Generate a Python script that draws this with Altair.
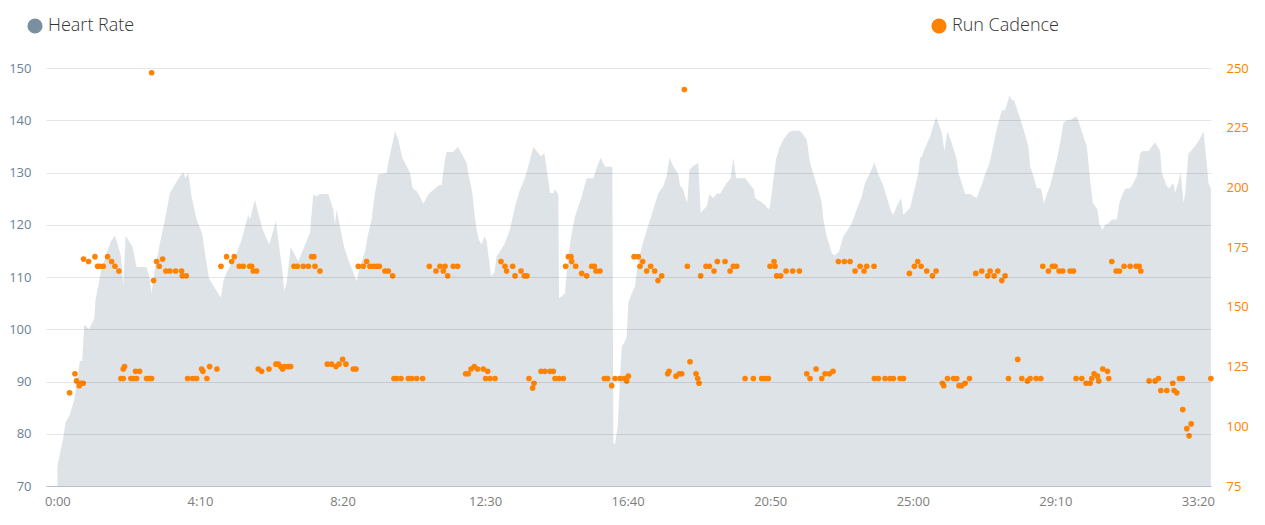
import altair as alt
import pandas as pd

# ---------------- Heart rate (area) ----------------
hr_t = (
    [0, 10.2, 14.3, 21.9, 29.5, 39.5, 43.6, 47.1, 55.3, 64.6, 66.9, 71.6, 76.3, 86.2, 93.8,
     100.9, 106.7, 111.4, 115.5, 119.6, 131.3, 138.9, 156.4, 162.2, 165.2, 169.8, 179.8, 188.6,
     197.3, 206.1, 214.9, 220.7, 224.8, 229.5, 235.3, 244.1, 254.0, 258.7, 265.7, 270.4, 279.2,
     286.8, 290.9, 296.7, 305.5, 314.3, 323.0]
    + [334.7, 337.6, 346.4, 352.3, 359.9, 371.6, 383.2, 387.3, 394.9, 397.9, 402.0, 409.0, 422.4,
       442.9, 448.7, 454.6, 460.4, 475.0, 483.8, 486.7, 489.7, 495.5, 502.5, 510.1, 518.9, 524.7,
       530.6, 539.4, 545.2, 551.0, 556.9, 562.7, 577.4, 580.3, 592.0, 597.8, 604.8, 612.4, 618.3,
       623.0, 630.0, 635.8, 641.7, 650.4, 659.2, 670.9]
    + [673.8, 679.7, 682.6, 694.3, 701.9, 708.9, 717.7, 720.6, 725.3, 727.6, 731.1, 735.2, 739.3,
       744.0, 748.7, 752.8, 756.9, 760.4, 766.2, 770.3, 776.1, 784.9, 793.7, 802.5, 811.2, 820.0,
       825.8, 834.6, 840.5, 848.1, 853.9, 859.8, 863.9, 869.7, 872.6, 878.5, 879.6, 883.1, 890.2,
       893.1, 896.0, 901.9, 907.7, 919.4, 928.2, 939.8, 945.7, 952.7, 960.3, 973.2, 974.9, 977.9,
       982.5, 986.6, 989.6, 995.4, 998.3, 1001.2, 1007.1]
    + [1012.9, 1018.8, 1027.5, 1036.3, 1045.1, 1053.9, 1062.6, 1068.5, 1073.2, 1080.2, 1088.9,
       1091.9, 1096.5, 1100.6, 1104.7, 1108.2, 1115.2, 1124.0, 1128.1, 1132.8, 1138.6, 1143.3,
       1150.3, 1157.3, 1162.0, 1167.9, 1173.7, 1180.7, 1185.4, 1190.1, 1205.9, 1214.6, 1221.7,
       1223.4, 1232.2, 1241.0, 1246.8, 1249.7, 1255.6, 1260.2, 1266.1, 1273.1, 1281.9, 1287.7,
       1302.3, 1308.2, 1314.0, 1319.9, 1326.9, 1334.5, 1340.4, 1343.3, 1349.1]
    + [1357.9, 1362.6, 1370.8, 1378.3, 1384.2, 1393.0, 1401.7, 1410.5, 1416.4, 1425.1, 1432.7,
       1439.7, 1448.5, 1457.3, 1461.9, 1466.0, 1471.9, 1479.5, 1483.6, 1489.4, 1495.3, 1502.9,
       1509.9, 1512.8, 1515.8, 1521.6, 1530.4, 1540.9, 1550.8, 1555.5, 1560.8, 1568.4, 1577.1,
       1580.1, 1585.9, 1591.8, 1600.5, 1612.2, 1621.0, 1626.8, 1633.9, 1638.5, 1644.4, 1650.2,
       1656.1, 1661.9, 1669.5, 1673.6, 1677.7, 1682.4, 1688.2]
    + [1695.2, 1702.8, 1705.8, 1711.6, 1717.5, 1724.5, 1730.3, 1735.0, 1740.8, 1746.7, 1752.5,
       1758.4, 1764.2, 1770.1, 1775.9, 1786.4, 1788.8, 1796.4, 1805.2, 1811.0, 1815.7, 1823.9,
       1827.4, 1833.2, 1837.3, 1843.2, 1849.0, 1857.8, 1862.4, 1866.6, 1872.4, 1881.2, 1887.0,
       1892.9, 1898.7, 1903.4, 1913.3, 1919.2, 1925.0, 1930.9, 1933.8, 1936.7, 1945.5, 1950.2,
       1954.3, 1957.2, 1960.1, 1966.0, 1970.0, 1974.7, 1977.6, 1983.5, 1986.4, 1992.3, 2001.0,
       2009.8, 2012.7, 2015.6, 2018.6, 2022.7]
)
hr_bpm = (
    [73.8, 79.2, 82.1, 83.7, 86.5, 93.9, 93.9, 100.9, 100.0, 102.0, 105.7, 108.2, 111.1, 114.6,
     116.8, 117.9, 115.9, 114.0, 108.2, 117.9, 115.9, 111.9, 111.9, 109.5, 106.9, 110.8, 116.5,
     121.0, 126.1, 127.7, 129.3, 130.0, 128.9, 129.9, 125.4, 121.0, 118.3, 114.6, 109.8, 108.9,
     107.3, 106.0, 109.2, 110.8, 112.7, 114.6, 117.1]
    + [121.9, 121.0, 124.8, 122.2, 119.1, 116.2, 120.7, 117.1, 110.8, 107.3, 108.9, 115.7, 113.0,
       118.4, 125.8, 125.4, 125.9, 125.9, 122.9, 120.0, 122.9, 119.7, 115.9, 113.3, 110.8, 109.2,
       112.0, 114.9, 118.4, 121.0, 126.1, 129.6, 129.9, 131.8, 137.9, 136.3, 132.8, 131.2, 129.9,
       127.0, 126.4, 125.4, 124.0, 125.8, 126.7, 127.7]
    + [127.5, 132.5, 133.9, 133.9, 134.9, 133.7, 131.8, 129.6, 127.4, 126.1, 122.2, 119.1, 117.1,
       116.2, 117.8, 116.8, 113.3, 110.1, 110.8, 114.0, 114.9, 116.5, 119.1, 123.5, 126.7, 128.9,
       131.2, 134.9, 134.1, 133.1, 133.7, 129.3, 126.1, 126.1, 126.8, 125.8, 106.0, 106.2, 106.9,
       110.8, 114.0, 118.4, 121.6, 125.4, 128.9, 128.9, 130.9, 132.8, 131.1, 131.1, 78.2, 78.1,
       81.4, 90.4, 96.7, 97.7, 98.6, 105.0, 106.9]
    + [108.2, 113.3, 116.8, 120.0, 122.9, 126.1, 127.4, 129.3, 132.8, 131.2, 129.6,
       127.4, 127.0, 125.4, 124.2, 130.5, 131.3, 131.8, 122.2, 122.9, 123.5, 125.8,
       125.1, 126.1, 125.9, 127.0, 128.0, 128.9, 132.8, 128.9, 128.9, 127.7, 126.7,
       125.1, 124.5, 123.8, 122.9, 123.5, 128.6, 132.5, 134.7, 136.3, 137.6, 138.0,
       138.0, 137.2, 136.3, 131.8, 129.3, 126.7, 124.2, 121.0, 117.8]
    + [114.6, 114.1, 114.9, 117.8, 118.7, 120.3, 122.9, 125.4, 128.0, 129.9, 131.9,
       129.6, 127.4, 124.2, 122.6, 121.9, 123.5, 125.1, 121.9, 122.6, 123.2, 126.7,
       129.9, 132.8, 133.0, 134.7, 136.9, 140.6, 137.6, 134.1, 137.9, 135.6, 132.5,
       129.9, 128.0, 125.9, 125.9, 125.1, 127.7, 129.6, 131.5, 133.7, 136.9, 139.5,
       141.9, 141.9, 144.7, 143.9, 143.8, 142.3, 140.4]
    + [137.9, 135.0, 131.2, 129.3, 127.0, 127.0, 124.0, 125.8, 127.4, 129.9, 132.5,
       135.6, 139.5, 140.0, 140.0, 140.7, 140.4, 137.9, 135.0, 128.6, 124.2, 122.9,
       120.0, 119.1, 120.0, 120.3, 121.0, 121.0, 124.2, 125.4, 126.9, 127.0, 128.0,
       129.3, 133.7, 134.1, 134.1, 135.0, 135.8, 134.7, 134.1, 129.9, 127.4, 127.0,
       127.7, 127.9, 126.1, 128.3, 129.9, 124.2, 125.8, 133.7, 133.9, 134.7, 136.0,
       137.9, 134.7, 131.8, 128.0, 127.0]
)

# ---------------- Run cadence (points) ----------------
cad_t = (
    [21.3, 30.7, 33.6, 38.3, 41.2, 45.3, 45.9, 54.7, 65.8, 70.5, 74.5, 80.4, 88.0, 95.0, 100.9,
     107.9, 111.4, 115.5, 115.5, 117.8, 128.9, 133.0, 137.1, 138.9, 144.1, 156.4, 160.5, 165.2,
     165.2, 168.7, 173.9, 178.6, 184.5, 190.3, 197.3, 207.3, 217.8, 219.0, 226.0, 228.3, 237.1,
     244.1, 252.9, 255.2, 262.2, 266.9, 279.8, 286.8, 296.7, 305.5, 310.2, 318.9, 325.9]
    + [337.1, 340.6, 343.5, 349.3, 352.3, 358.1, 371.0, 383.2, 387.3, 391.4, 394.9, 399.0, 404.9,
       409.0, 414.8, 420.7, 431.2, 440.0, 445.8, 449.9, 451.7, 460.4, 473.3, 480.9, 488.5, 493.8,
       500.2, 506.0, 518.9, 523.6, 527.7, 536.4, 542.3, 548.1, 554.0, 559.8, 564.5, 574.4, 580.3,
       587.9, 590.2, 594.9, 602.5, 615.4, 621.2, 630.0, 640.5, 652.2, 663.9, 670.9]
    + [676.8, 679.7, 684.4, 694.3, 701.9, 715.9, 720.6, 725.3, 731.1, 737.0, 746.9, 754.5, 751.0,
       758.6, 767.4, 777.9, 784.9, 787.8, 798.4, 802.5, 813.0, 818.8, 823.5, 827.0, 835.8, 833.4,
       848.1, 855.1, 863.9, 869.7, 872.6, 879.6, 887.2, 891.3, 896.0, 900.7, 901.9, 908.9, 919.4,
       928.2, 936.9, 941.6, 944.5, 951.5, 959.1, 965.0, 972.0, 977.9, 986.6, 994.2, 998.3, 1001.2,
       1011.2]
    + [1018.8, 1021.7, 1026.4, 1033.4, 1040.4, 1047.4, 1053.3, 1059.7, 1070.2, 1072.6, 1084.9,
       1090.7, 1094.8, 1099.5, 1104.7, 1109.4, 1119.9, 1122.9, 1125.2, 1128.1, 1137.5, 1143.3,
       1151.5, 1157.3, 1170.8, 1179.6, 1185.4, 1191.3, 1205.9, 1220.5, 1235.1, 1241.0, 1246.8,
       1249.7, 1256.7, 1258.5, 1261.4, 1268.4, 1277.8, 1289.5, 1301.2, 1314.0, 1319.9, 1330.4,
       1340.4, 1346.2, 1353.8]
    + [1360.2, 1369.6, 1380.1, 1390.0, 1398.8, 1407.6, 1414.6, 1419.3, 1432.1, 1432.7, 1439.7,
       1451.4, 1460.2, 1466.0, 1477.7, 1483.6, 1494.1, 1502.9, 1508.7, 1514.6, 1524.5, 1534.5,
       1540.9, 1552.0, 1554.3, 1560.8, 1571.3, 1577.1, 1581.2, 1585.9, 1591.8, 1599.4, 1610.5,
       1621.0, 1631.5, 1635.6, 1642.6, 1649.1, 1656.1, 1661.9, 1667.8, 1684.1, 1691.2]
    + [1701.1, 1705.8, 1716.3, 1724.5, 1728.0, 1737.9, 1744.9, 1749.6, 1756.6, 1763.1, 1775.9,
       1781.8, 1786.4, 1796.4, 1804.0, 1811.0, 1813.9, 1818.0, 1823.9, 1826.2, 1833.2, 1841.4,
       1843.7, 1849.0, 1856.6, 1862.4, 1870.6, 1881.2, 1891.7, 1897.0, 1899.9, 1914.5, 1925.0,
       1930.9, 1935.0, 1945.5, 1956.0, 1958.3, 1963.0, 1967.7, 1972.9, 1973.5, 1980.6, 1984.6,
       1988.2, 2022.7]
)
cad_spm = (
    [114, 122, 119, 117, 118, 118, 170, 169, 171, 167, 167, 167, 171, 169, 167,
     165, 120, 120, 124, 125, 120, 120, 123, 120, 123, 120, 120, 120,
     248, 161, 169, 167, 170, 165, 165, 165, 165, 163, 163, 120, 120,
     120, 124, 123, 120, 125, 124, 167, 171, 169, 171, 167, 167]
    + [167, 167, 165, 165, 124, 123, 124, 126, 126, 125, 124, 125, 125,
       125, 167, 167, 167, 167, 171, 171, 167, 165, 126, 126, 125, 126,
       128, 126, 124, 124, 167, 167, 169, 167, 167, 167, 167, 165, 165,
       163, 120, 120, 120, 120, 120, 120, 120, 167, 165, 167]
    + [165, 167, 163, 167, 167, 122, 122, 124, 125, 124, 124, 123, 120,
       120, 120, 169, 167, 165, 167, 163, 165, 163, 163, 120, 118, 116,
       123, 123, 123, 123, 120, 120, 120, 167, 171, 171, 169, 167, 164,
       163, 167, 167, 165, 165, 120, 120, 117, 120, 120, 120, 119, 121,
       171]
    + [171, 167, 169, 165, 167, 165, 161, 163, 122, 123, 121,
       122, 122, 241, 167, 127, 122, 120, 118, 163, 167, 167,
       165, 169, 169, 165, 167, 167, 120, 120, 120, 120, 120,
       167, 169, 167, 163, 163, 165, 165, 165, 122, 120, 124,
       120, 122, 122]
    + [123, 169, 169, 169, 165, 167, 165, 167, 167, 120, 120,
       120, 120, 120, 120, 120, 164, 167, 169, 167, 165, 163,
       165, 118, 117, 120, 120, 120, 117, 117, 118, 120, 164,
       165, 163, 165, 163, 165, 161, 163, 120, 128, 120]
    + [119, 120, 120, 120, 167, 165, 167, 167, 165, 165, 165,
       165, 120, 120, 118, 118, 120, 122, 121, 119, 124, 123,
       120, 169, 165, 165, 167, 167, 167, 167, 165, 119, 119,
       120, 115, 115, 118, 115, 114, 120, 120, 107, 99, 96,
       101, 120]
)

assert len(hr_t) == len(hr_bpm), (len(hr_t), len(hr_bpm))
assert len(cad_t) == len(cad_spm), (len(cad_t), len(cad_spm))

x_ticks = [0, 250, 500, 750, 1000, 1250, 1500, 1750, 2000]
hr_ticks = [70, 80, 90, 100, 110, 120, 130, 140, 150]
cad_ticks = [75, 100, 125, 150, 175, 200, 225, 250]

hr_df = pd.DataFrame({"t": hr_t, "hr": hr_bpm, "series": "Heart Rate"})
cad_df = pd.DataFrame({"t": cad_t, "cad": cad_spm, "series": "Run Cadence"})

FONT = "Open Sans"
x_scale = alt.Scale(domain=[-20, 2023], nice=False, zero=False)

x_axis = alt.Axis(
    values=x_ticks,
    labelExpr="floor(datum.value/60) + ':' + (datum.value % 60 < 10 ? '0' : '') + (datum.value % 60)",
    title=None, grid=False, ticks=False, domainColor="#ccd6eb", domainWidth=1,
    labelColor="#7d7d7d", labelFontSize=13, labelFont=FONT, labelPadding=9,
    labelFlush=False, labelOverlap=False,
)

legend_style = dict(
    title=None, orient="none", legendY=-51, symbolType="circle",
    symbolSize=230, symbolOpacity=1, symbolStrokeWidth=0, labelFontSize=18,
    labelFont=FONT, labelFontWeight=300, labelColor="#333333", labelOffset=4, padding=0,
)

area = alt.Chart(hr_df).mark_area(opacity=0.25, clip=True).encode(
    x=alt.X("t:Q", scale=x_scale, axis=x_axis),
    y=alt.Y(
        "hr:Q",
        scale=alt.Scale(domain=[70, 150], nice=False, zero=False),
        axis=alt.Axis(
            values=hr_ticks, title=None, domain=False, ticks=False, labelPadding=15,
            labelColor="#6b8296", labelFontSize=13, labelFont=FONT,
            grid=True, gridColor="#000000", gridOpacity=0.1, zindex=1,
        ),
    ),
    y2=alt.Y2(datum=70),
    color=alt.Color(
        "series:N",
        scale=alt.Scale(domain=["Heart Rate"], range=["#7a8f9f"]),
        legend=alt.Legend(legendX=-20, **legend_style),
    ),
)

points = alt.Chart(cad_df).mark_circle(size=32, opacity=1).encode(
    x=alt.X("t:Q", scale=x_scale, axis=x_axis),
    y=alt.Y(
        "cad:Q",
        scale=alt.Scale(domain=[75, 250], nice=False, zero=False),
        axis=alt.Axis(
            orient="right", values=cad_ticks, title=None, domain=False, ticks=False,
            grid=False, labelPadding=15, labelColor="#ff8200", labelFontSize=13, labelFont=FONT,
        ),
    ),
    color=alt.Color(
        "series:N",
        scale=alt.Scale(domain=["Run Cadence"], range=["#ff8200"]),
        legend=alt.Legend(legendX=884, **legend_style),
    ),
)

chart = (
    alt.layer(area, points)
    .resolve_scale(y="independent", color="independent")
    .resolve_legend(color="independent")
    .properties(
        width=1165, height=418,
        padding={"left": 38, "top": 60, "right": 40, "bottom": 31},
        autosize=alt.AutoSizeParams(type="none"),
    )
    .configure_view(stroke=None)
)

chart.save("out.html", embed_options={"renderer": "svg", "actions": False})
